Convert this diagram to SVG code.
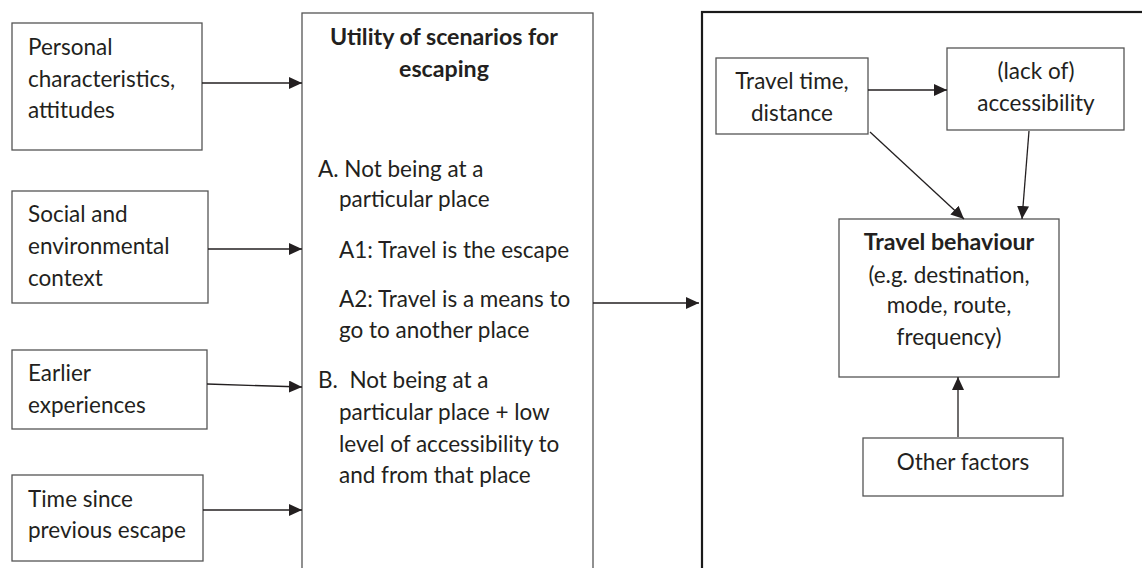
<svg xmlns="http://www.w3.org/2000/svg" width="1142" height="568" viewBox="0 0 1142 568">
<style>
  .box { fill: #fff; stroke: #555; stroke-width: 1.3; }
  .panel { fill: none; stroke: #1a1a1a; stroke-width: 2.2; }
  text { font-family: Lato, "Open Sans", sans-serif; font-size: 22.5px; fill: #231f20; }
  .b { font-weight: bold; font-size: 23.2px; }
  .c { text-anchor: middle; }
  .conn line { stroke: #231f20; stroke-width: 1.3; marker-end: url(#ah); }
</style>
<defs>
  <marker id="ah" viewBox="0 0 13 12" refX="13" refY="6" markerWidth="13" markerHeight="12" markerUnits="userSpaceOnUse" orient="auto">
    <polygon points="0,0 13,6 0,12" fill="#231f20"/>
  </marker>
</defs>
<rect width="1142" height="568" fill="#fff"/>

<g id="n-personal">
  <rect class="box" x="12" y="23" width="190" height="127"/>
  <text x="28" y="55">Personal</text>
  <text x="28" y="87">characteristics,</text>
  <text x="28" y="118">attitudes</text>
</g>
<g id="n-social">
  <rect class="box" x="12" y="191" width="196" height="112"/>
  <text x="28" y="222">Social and</text>
  <text x="28" y="254">environmental</text>
  <text x="28" y="286">context</text>
</g>
<g id="n-earlier">
  <rect class="box" x="12" y="350" width="195" height="79"/>
  <text x="28" y="381">Earlier</text>
  <text x="28" y="413">experiences</text>
</g>
<g id="n-time">
  <rect class="box" x="12" y="475" width="191" height="86"/>
  <text x="28" y="507">Time since</text>
  <text x="28" y="538">previous escape</text>
</g>

<g id="n-utility">
  <rect class="box" x="302" y="13" width="291" height="570"/>
  <text class="b c" x="444" y="45">Utility of scenarios for</text>
  <text class="b c" x="444" y="77">escaping</text>
  <text x="318" y="177">A. Not being at a</text>
  <text x="339" y="207">particular place</text>
  <text x="339" y="258">A1: Travel is the escape</text>
  <text x="339" y="307">A2: Travel is a means to</text>
  <text x="339" y="338">go to another place</text>
  <text x="318" y="388" xml:space="preserve">B.  Not being at a</text>
  <text x="339" y="420">particular place + low</text>
  <text x="339" y="452">level of accessibility to</text>
  <text x="339" y="483">and from that place</text>
</g>

<g id="n-panel">
  <rect class="panel" x="702" y="12" width="460" height="580"/>
</g>
<g id="n-traveltime">
  <rect class="box" x="716" y="58" width="152" height="76"/>
  <text class="c" x="792" y="89">Travel time,</text>
  <text class="c" x="792" y="121">distance</text>
</g>
<g id="n-access">
  <rect class="box" x="947" y="48" width="177" height="82"/>
  <text class="c" x="1036" y="79">(lack of)</text>
  <text class="c" x="1036" y="111">accessibility</text>
</g>
<g id="n-behaviour">
  <rect class="box" x="839" y="219" width="220" height="158"/>
  <text class="b c" x="949" y="250">Travel behaviour</text>
  <text class="c" x="949" y="283">(e.g. destination,</text>
  <text class="c" x="949" y="313">mode, route,</text>
  <text class="c" x="949" y="345">frequency)</text>
</g>
<g id="n-other">
  <rect class="box" x="863" y="438" width="200" height="58"/>
  <text class="c" x="963" y="470">Other factors</text>
</g>

<g id="connectors" class="conn">
  <line x1="202" y1="83" x2="302" y2="83"/>
  <line x1="208" y1="249" x2="302" y2="249"/>
  <line x1="207" y1="384" x2="302" y2="387"/>
  <line x1="203" y1="510" x2="302" y2="510"/>
  <line x1="593" y1="303" x2="699" y2="303"/>
  <line x1="868" y1="90" x2="947" y2="90"/>
  <line x1="870" y1="132" x2="964" y2="219"/>
  <line x1="1029" y1="131" x2="1022" y2="219"/>
  <line x1="958" y1="437" x2="958" y2="377"/>
</g>
</svg>
